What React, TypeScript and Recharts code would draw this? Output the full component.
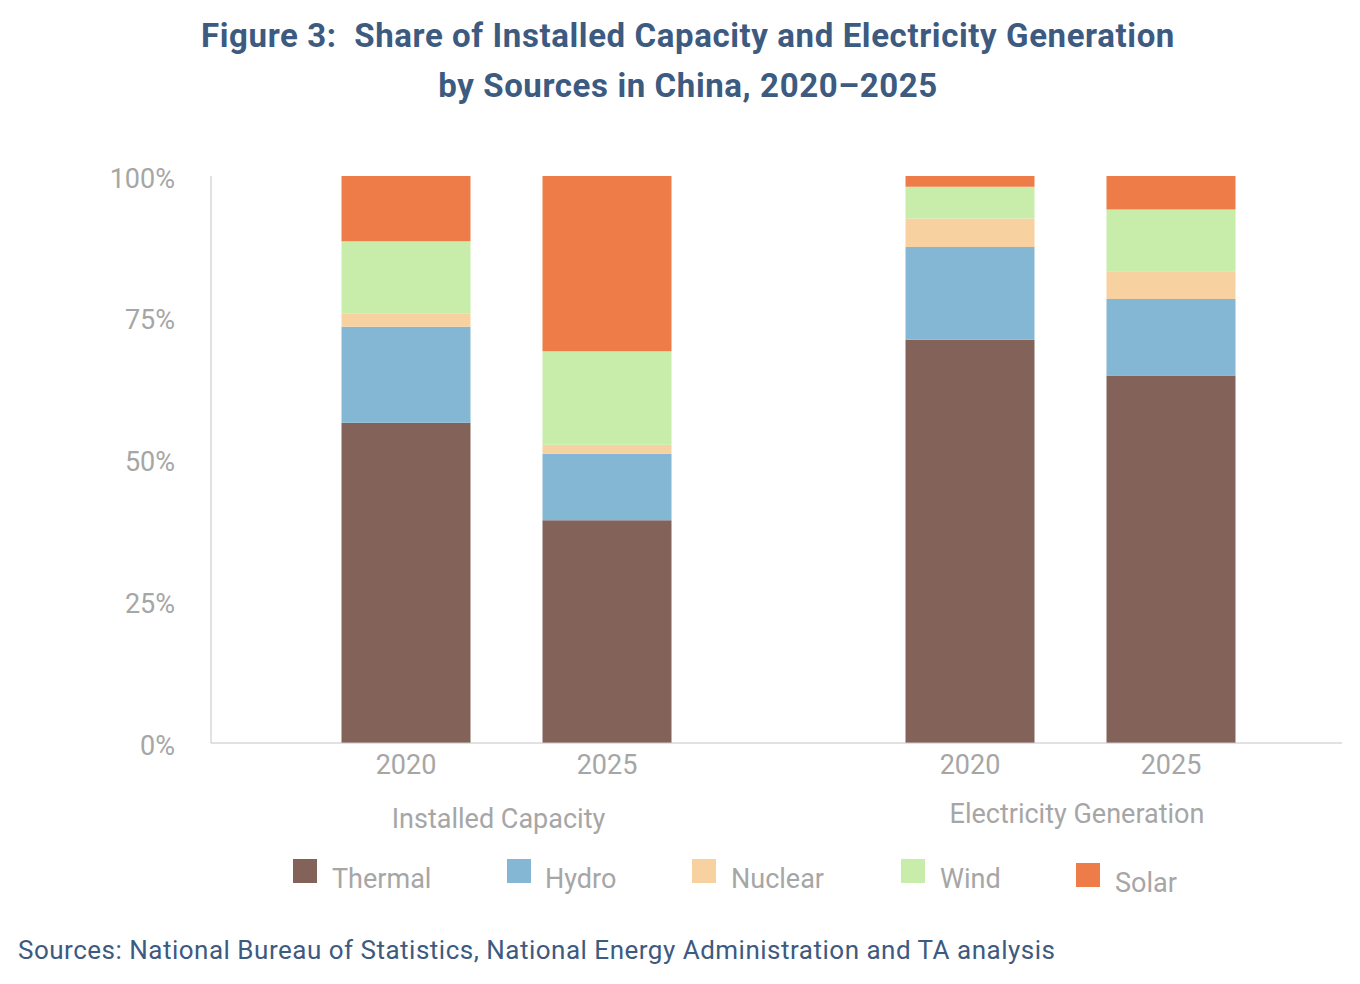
import React from "react";
import { BarChart, Bar, XAxis, YAxis } from "recharts";

const years = ["2020", "2025"];

// Installed capacity shares (%)
const capacityThermal = [56.5, 39.3];
const capacityHydro = [16.9, 11.7];
const capacityNuclear = [2.3, 1.6];
const capacityWind = [12.8, 16.5];
const capacitySolar = [11.5, 30.9];

// Electricity generation shares (%)
const generationThermal = [71.1, 64.8];
const generationHydro = [16.4, 13.5];
const generationNuclear = [5.0, 4.9];
const generationWind = [5.6, 10.9];
const generationSolar = [1.9, 5.9];

const yTicks = [0, 25, 50, 75, 100];

const sources = [
  { key: "thermal", name: "Thermal", color: "#83625a" },
  { key: "hydro", name: "Hydro", color: "#83b7d3" },
  { key: "nuclear", name: "Nuclear", color: "#f7d19f" },
  { key: "wind", name: "Wind", color: "#c8ecaa" },
  { key: "solar", name: "Solar", color: "#ee7c48" },
];

const capacityData = years.map((year, i) => ({
  year,
  thermal: capacityThermal[i],
  hydro: capacityHydro[i],
  nuclear: capacityNuclear[i],
  wind: capacityWind[i],
  solar: capacitySolar[i],
}));

const generationData = years.map((year, i) => ({
  year,
  thermal: generationThermal[i],
  hydro: generationHydro[i],
  nuclear: generationNuclear[i],
  wind: generationWind[i],
  solar: generationSolar[i],
}));

const gray = "#a6a6a6";
const axisGray = "#c4c4c4";
const navy = "#3d5a80";
const tickStyle = { fill: gray, fontSize: 27, fontFamily: "Roboto" };

// legend item positions as laid out in the figure
const legendPos = [
  { box: 293, text: 332, top: 859 },
  { box: 507, text: 545, top: 859 },
  { box: 692, text: 731, top: 859 },
  { box: 901, text: 940, top: 859 },
  { box: 1076, text: 1115, top: 863 },
];

const stackBars = () =>
  sources.map((s) => (
    <Bar
      key={s.key}
      dataKey={s.key}
      stackId="a"
      fill={s.color}
      barSize={129}
      isAnimationActive={false}
    />
  ));

const App = () => {
  return (
    <div
      style={{
        position: "absolute",
        left: 0,
        top: 0,
        width: 1360,
        height: 984,
        background: "#fff",
        fontFamily: "Roboto",
      }}
    >
      <div
        style={{
          position: "absolute",
          left: 8,
          top: 11,
          width: 1360,
          textAlign: "center",
          color: navy,
          fontWeight: 700,
          fontSize: 33,
          letterSpacing: "0.6px",
          lineHeight: "50px",
        }}
      >
        <div>Figure 3:&nbsp; Share of Installed Capacity and Electricity Generation</div>
        <div>by Sources in China, 2020–2025</div>
      </div>

      <div style={{ position: "absolute", left: 0, top: 150 }}>
        <BarChart
          width={790}
          height={700}
          data={capacityData}
          margin={{ top: 26, right: 0, left: 0, bottom: 0 }}
        >
          <XAxis
            dataKey="year"
            height={107}
            padding={{ left: 94.5, right: 82.5 }}
            axisLine={{ stroke: axisGray }}
            tickLine={false}
            tickSize={0}
            tickMargin={12}
            tick={tickStyle}
            label={{
              value: "Installed Capacity",
              position: "insideBottom",
              offset: 22,
              dx: -2,
              fill: gray,
              fontSize: 27,
            }}
          />
          <YAxis
            width={211}
            domain={[0, 100]}
            ticks={yTicks}
            tickFormatter={(v) => `${v}%`}
            axisLine={{ stroke: axisGray }}
            tickLine={false}
            tickSize={0}
            tickMargin={36}
            tick={{ ...tickStyle, dy: 2 }}
          />
          {stackBars()}
        </BarChart>
      </div>

      <div style={{ position: "absolute", left: 790, top: 150 }}>
        <BarChart
          width={552}
          height={700}
          data={generationData}
          margin={{ top: 26, right: 0, left: 0, bottom: 0 }}
        >
          <XAxis
            dataKey="year"
            height={107}
            padding={{ left: 79.5, right: 70.5 }}
            axisLine={{ stroke: axisGray }}
            tickLine={false}
            tickSize={0}
            tickMargin={12}
            tick={tickStyle}
            label={{
              value: "Electricity Generation",
              position: "insideBottom",
              offset: 27,
              dx: 11,
              fill: gray,
              fontSize: 27,
            }}
          />
          <YAxis hide domain={[0, 100]} ticks={yTicks} />
          {stackBars()}
        </BarChart>
      </div>

      {sources.map((s, i) => (
        <React.Fragment key={s.key}>
          <div
            style={{
              position: "absolute",
              left: legendPos[i].box,
              top: legendPos[i].top,
              width: 24,
              height: 24,
              background: s.color,
            }}
          />
          <div
            style={{
              position: "absolute",
              left: legendPos[i].text,
              top: legendPos[i].top + 2,
              fontSize: 27,
              lineHeight: "36px",
              color: gray,
            }}
          >
            {s.name}
          </div>
        </React.Fragment>
      ))}

      <div
        style={{
          position: "absolute",
          left: 18,
          top: 932,
          fontSize: 26,
          letterSpacing: "0.5px",
          lineHeight: "36px",
          color: navy,
        }}
      >
        Sources: National Bureau of Statistics, National Energy Administration and TA analysis
      </div>
    </div>
  );
};

export default App;
